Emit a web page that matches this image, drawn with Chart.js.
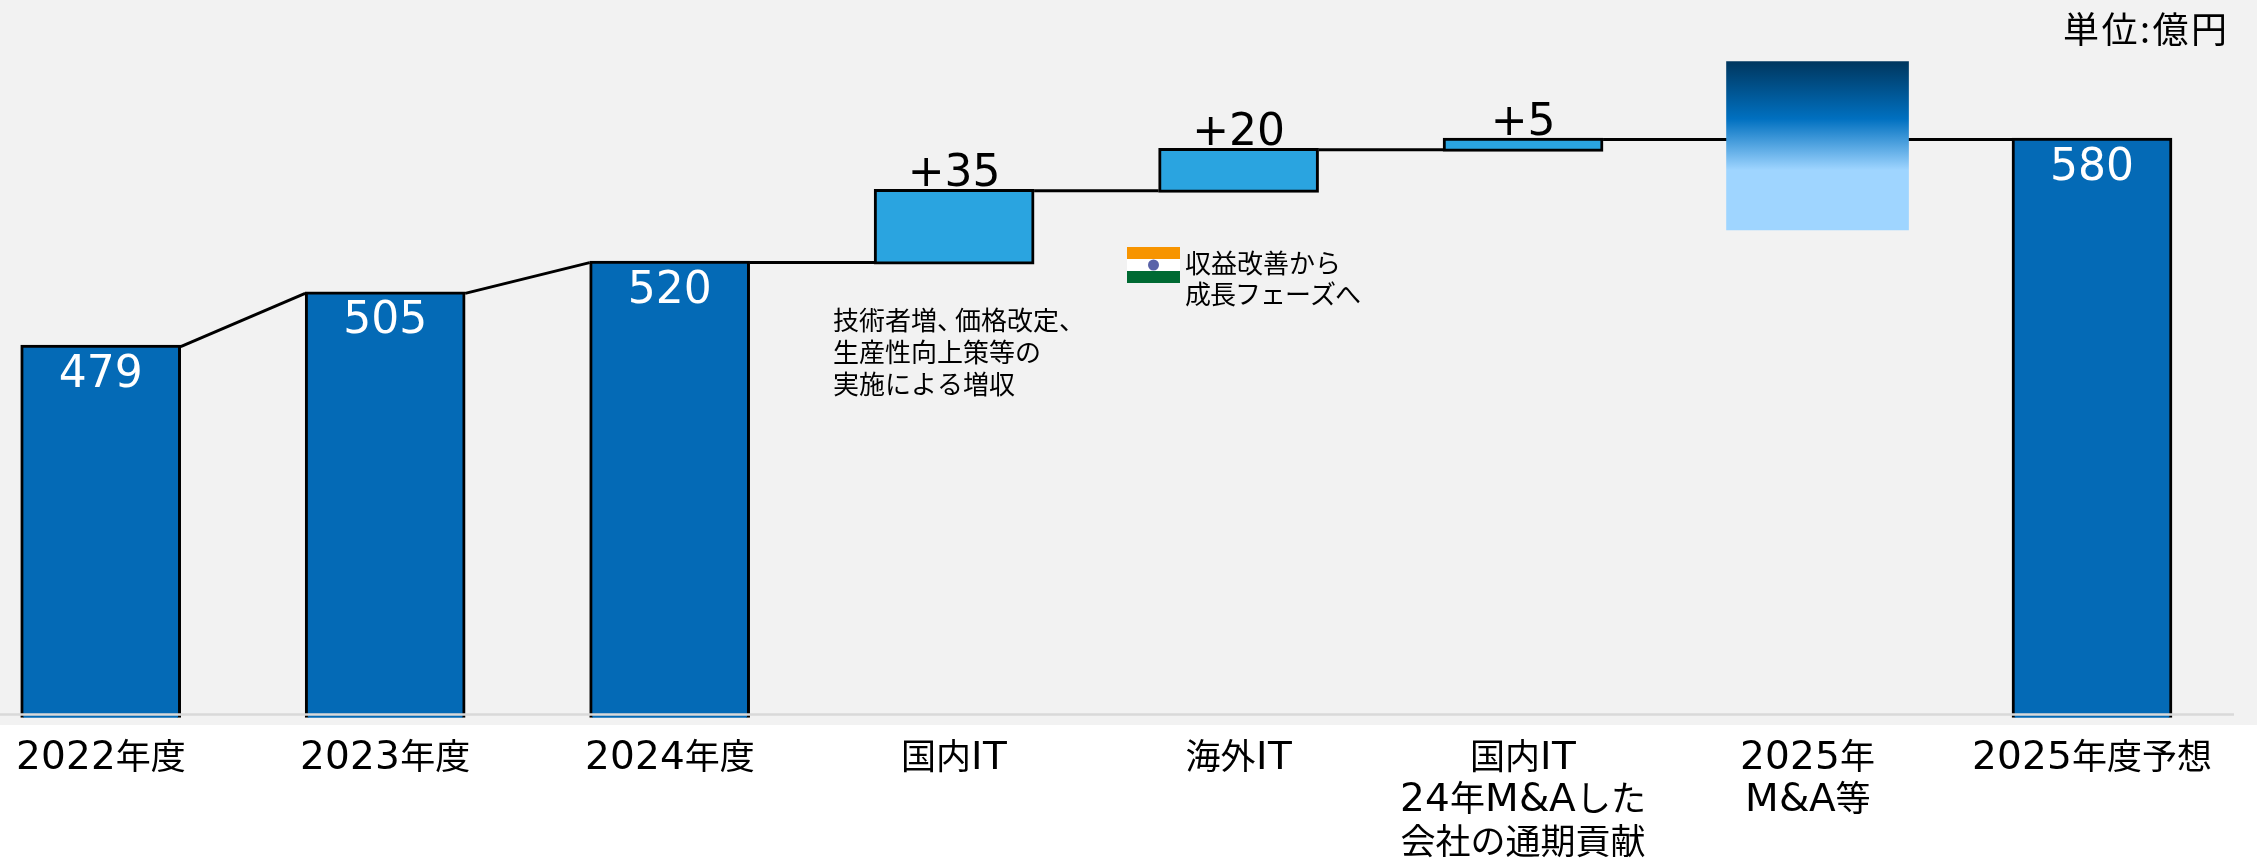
<!DOCTYPE html>
<html lang="ja">
<head>
<meta charset="utf-8">
<style>
  @font-face {
    font-family: "LatinWide";
    src: local("DejaVu Sans");
    size-adjust: 112%;
    unicode-range: U+0020-007E;
  }
  html, body { margin: 0; padding: 0; background: #fff; }
  #panel { position: absolute; left: 0; top: 0; width: 2257px; height: 725px; background: #f2f2f2; }
  #chart { position: absolute; left: 0; top: 0; }
</style>
<script src="https://cdn.jsdelivr.net/npm/chart.js@4"></script>
</head>
<body>
<div id="panel"></div>
<canvas id="chart" width="2257" height="858"></canvas>
<script>
var categories = [
    '2022年度', '2023年度', '2024年度', '国内IT', '海外IT',
    ['国内IT', '24年M&Aした', '会社の通期貢献'],
    ['2025年', 'M&A等'], '2025年度予想'
];
var totals = [479, 505, 520, null, null, null, null, 580];
var deltas = [null, null, null, 35, 20, 5, null, null];
var mnaRange = [536, 618];
var axisMin = 298;
var axisMax = 620;
var axisLineValue = 299.6;
var unitLabel = '単位:億円';
var noteDomestic = ['生産性向上策等の', '実施による増収'];
var noteDomesticFirst = ['技術者増、', '価格改定、'];
var noteOverseas = ['収益改善から', '成長フェーズへ'];

var latin = '"DejaVu Sans", "Noto Sans CJK JP", sans-serif';
var tickFont = '"LatinWide", "Noto Sans CJK JP", sans-serif';
var cjk = '"Noto Sans CJK JP", sans-serif';
var strokeWidth = 3;

// floating bars: totals stand on the axis, deltas start where the previous bar ended
var barData = [];
var running = 0;
categories.forEach(function(c, i) {
    if (totals[i] !== null) {
        running = totals[i];
        barData.push([axisMin, totals[i]]);
    } else if (deltas[i] !== null) {
        barData.push([running, running + deltas[i]]);
        running += deltas[i];
    } else {
        barData.push(null);
    }
});
var mnaData = categories.map(function(c, i) { return i === 6 ? mnaRange : null; });

var connectors = {
    id: 'connectors',
    beforeDatasetsDraw: function(chart) {
        var ctx = chart.ctx;
        var bars = chart.getDatasetMeta(0).data;
        var half = strokeWidth / 2;
        var prev = null;
        ctx.save();
        ctx.strokeStyle = '#000';
        ctx.lineWidth = strokeWidth;
        bars.forEach(function(el, i) {
            if (barData[i] === null) return;
            if (prev !== null) {
                var endY = deltas[i] !== null ? el.base - half : el.y + half;
                ctx.beginPath();
                ctx.moveTo(prev.x + prev.width / 2, prev.y + half);
                ctx.lineTo(el.x - el.width / 2, endY);
                ctx.stroke();
            }
            prev = el;
        });
        ctx.restore();
    }
};

var adjustBars = {
    id: 'adjustBars',
    afterDatasetsUpdate: function(chart) {
        var half = strokeWidth / 2;
        // chart.js strokes inside the bar, the slide strokes centred on the value
        chart.getDatasetMeta(0).data.forEach(function(el, i) {
            if (barData[i] === null) return;
            el.y -= half;
            if (deltas[i] !== null) el.base += half;
        });
        // the box sits a little right of its category in the source slide
        chart.getDatasetMeta(1).data[6].x += 10;
    }
};

var overlay = {
    id: 'overlay',
    afterDatasetsDraw: function(chart) {
        var ctx = chart.ctx;
        var y = chart.scales.y;
        var bars = chart.getDatasetMeta(0).data;
        ctx.save();

        // axis line runs over the bars
        ctx.strokeStyle = '#d9d9d9';
        ctx.lineWidth = 2.5;
        ctx.beginPath();
        ctx.moveTo(0, y.getPixelForValue(axisLineValue));
        ctx.lineTo(2234, y.getPixelForValue(axisLineValue));
        ctx.stroke();

        // value labels
        ctx.textAlign = 'center';
        ctx.textBaseline = 'middle';
        ctx.font = '44px ' + latin;
        bars.forEach(function(el, i) {
            if (totals[i] !== null) {
                ctx.fillStyle = '#fff';
                ctx.fillText(String(totals[i]), el.x, el.y + 30);
            } else if (deltas[i] !== null) {
                ctx.fillStyle = '#000';
                ctx.fillText('+' + deltas[i], el.x, el.y - 15);
            }
        });

        // unit and notes
        ctx.fillStyle = '#000';
        ctx.textAlign = 'left';
        ctx.font = '36px ' + cjk;
        ctx.letterSpacing = '2.5px';
        ctx.fillText(unitLabel, 2063, 29);
        ctx.letterSpacing = '0px';
        ctx.font = '26px ' + cjk;
        ctx.fillText(noteDomesticFirst[0], 833, 320);
        ctx.fillText(noteDomesticFirst[1], 955, 320);
        noteDomestic.forEach(function(t, i) { ctx.fillText(t, 833, 352 + i * 32); });
        ctx.fillText(noteOverseas[0], 1185, 263);
        ctx.letterSpacing = '-1px';
        ctx.fillText(noteOverseas[1], 1185, 294);
        ctx.letterSpacing = '0px';

        // indian flag
        ctx.fillStyle = '#f79400';
        ctx.fillRect(1127, 247, 53, 12);
        ctx.fillStyle = '#ffffff';
        ctx.fillRect(1127, 259, 53, 12);
        ctx.fillStyle = '#006a33';
        ctx.fillRect(1127, 271, 53, 12);
        ctx.fillStyle = '#5a63a8';
        ctx.beginPath();
        ctx.arc(1153.5, 265, 5.5, 0, Math.PI * 2);
        ctx.fill();
        ctx.restore();
    }
};

function drawChart() {
    var ctx = document.getElementById('chart').getContext('2d');
    return new Chart(ctx, {
        type: 'bar',
        data: {
            labels: categories,
            datasets: [{
                data: barData,
                grouped: false,
                barThickness: 160,
                clip: false,
                backgroundColor: function(c) {
                    return deltas[c.dataIndex] !== null ? '#2aa4e0' : '#046ab6';
                },
                borderColor: '#000',
                borderWidth: strokeWidth,
                borderSkipped: function(c) {
                    return deltas[c.dataIndex] !== null ? false : 'bottom';
                }
            }, {
                data: mnaData,
                grouped: false,
                barThickness: 182,
                clip: false,
                borderWidth: 0,
                backgroundColor: function(c) {
                    var yScale = c.chart.scales.y;
                    var top = yScale.getPixelForValue(mnaRange[1]);
                    var bottom = yScale.getPixelForValue(mnaRange[0]);
                    if (!isFinite(top) || !isFinite(bottom)) return '#0070c0';
                    var g = c.chart.ctx.createLinearGradient(0, top, 0, bottom);
                    g.addColorStop(0, '#00375f');
                    g.addColorStop(0.34, '#0070c0');
                    g.addColorStop(0.645, '#9fd5ff');
                    g.addColorStop(1, '#9fd5ff');
                    return g;
                }
            }]
        },
        options: {
            responsive: false,
            animation: false,
            layout: { padding: { left: 100.7, right: 165, top: 57.6, bottom: 0 } },
            plugins: { legend: { display: false }, tooltip: { enabled: false } },
            scales: {
                x: {
                    offset: false,
                    grid: { display: false, drawTicks: false },
                    border: { display: false },
                    ticks: {
                        autoSkip: false,
                        maxRotation: 0,
                        minRotation: 0,
                        padding: 20,
                        color: '#000',
                        font: { family: tickFont, size: 35, lineHeight: 1.21 }
                    },
                    afterFit: function(scale) {
                        scale.height = 140.3;
                        scale.paddingLeft = 0;
                        scale.paddingRight = 0;
                    }
                },
                y: { display: false, min: axisMin, max: axisMax }
            }
        },
        plugins: [connectors, adjustBars, overlay]
    });
}

document.fonts.load('35px LatinWide', '2022').then(drawChart, drawChart);
</script>
</body>
</html>
